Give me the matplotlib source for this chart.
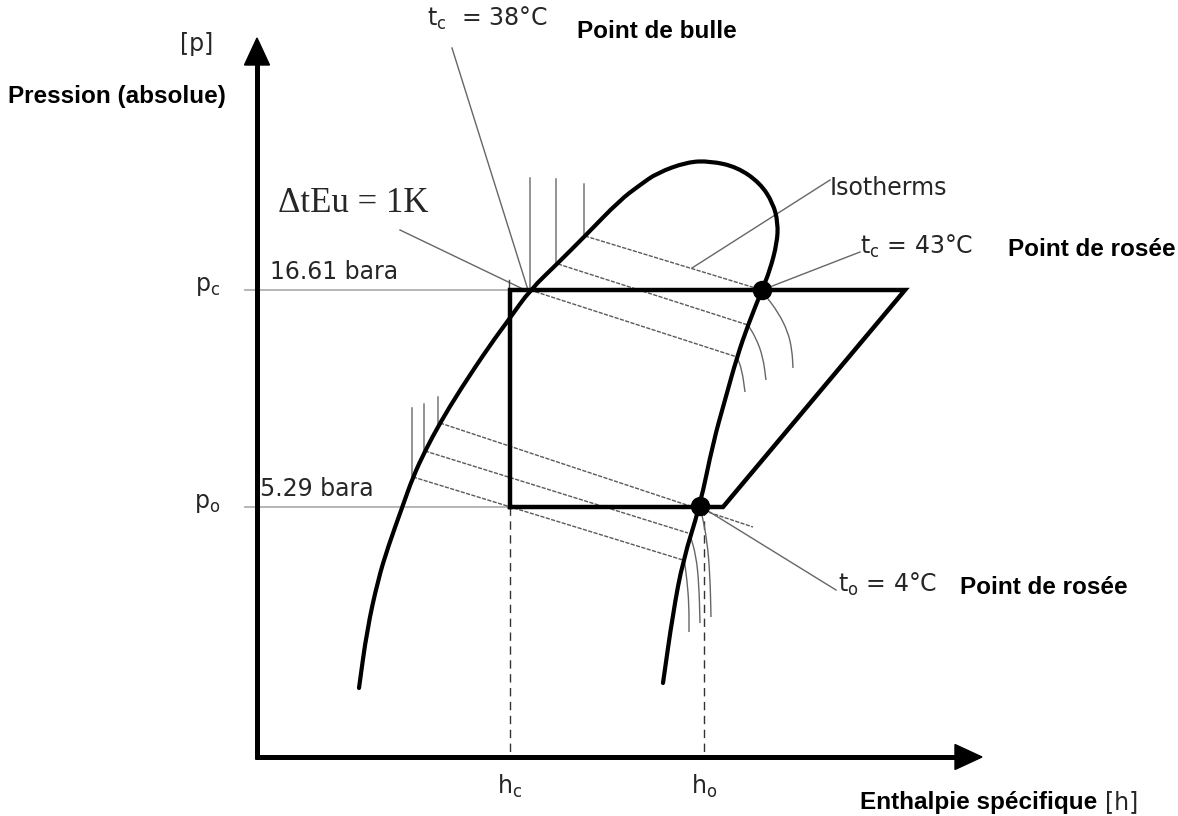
import matplotlib
matplotlib.use("Agg")
import matplotlib.pyplot as plt
from matplotlib.path import Path
from matplotlib.patches import PathPatch, Polygon
import numpy as np

plt.rcParams['mathtext.default'] = 'regular'

# ---------------- schematic data (pixel-like units, y downward) ----------------
# saturation dome (bubble line -> critical region -> dew line)
dome_h = [359, 367, 378, 388, 403, 413, 425, 440, 460, 490, 510, 530, 558, 585,
          620, 640, 657, 687, 710, 737, 760, 773, 778, 777, 770, 762, 748, 737,
          725, 713, 700, 683, 673, 663]
dome_p = [688, 630, 580, 547, 505, 477, 451, 423, 390, 345, 318, 290, 263, 236,
          200, 185, 173, 162, 161, 167, 183, 203, 223, 243, 270, 290, 325, 357,
          400, 443, 506, 560, 613, 683]

# refrigeration cycle
cycle_h = [510, 510, 905, 723, 510]
cycle_p = [507, 290, 290, 507, 507]

# pressure levels and enthalpy marks
p_levels = [290, 507]
p_names = ['p$_c$', 'p$_o$']
p_values = ['16.61 bara', '5.29 bara']
h_marks = [510, 704]
h_names = ['h$_c$', 'h$_o$']

# dew points
dew_h = [762, 700]
dew_p = [290, 506]

# isotherms (start, end)
iso_upper = [((585, 236), (762, 290)), ((558, 264), (748, 325)), ((530, 290), (737, 357))]
iso_lower = [((440, 423), (753, 527)), ((425, 451), (688, 533)), ((413, 477), (683, 560))]
# vertical isotherm stubs (h, p_top, p_bottom)
stubs = [(584, 184, 236), (556, 179, 264), (530, 178, 290),
         (412, 408, 478), (424, 404, 452), (438, 397, 425)]
# isotherm tails in the superheated region
tails = [
    ([748, 756, 763, 766], [325, 338, 357, 380]),
    ([737, 742, 745], [357, 370, 392]),
    ([765, 778, 788, 792, 793], [295, 312, 332, 350, 368]),
    ([684, 687, 689, 689], [558, 580, 605, 632]),
    ([690, 696, 699, 700], [535, 555, 585, 623]),
    ([702, 707, 710, 711], [515, 540, 575, 617]),
]
# annotation leader lines
leaders = [((452, 48), (528, 290)), ((400, 230), (525, 290)), ((692, 268), (830, 180)),
           ((762, 290), (860, 252)), ((700, 506), (836, 590))]

# axes geometry
axis_origin = (257, 757)
y_tip = 38
x_tip = 982

# ---------------- drawing ----------------
fig = plt.figure(figsize=(11.78, 8.16), dpi=100)
ax = fig.add_axes([0, 0, 1, 1])
ax.set_xlim(0, 1178)
ax.set_ylim(816, 0)
ax.axis('off')

def smooth_path(xs, ys):
    pts = np.column_stack([xs, ys]).astype(float)
    verts = [pts[0], (pts[0] + pts[1]) / 2]
    codes = [Path.MOVETO, Path.LINETO]
    for i in range(1, len(pts) - 1):
        verts += [pts[i], (pts[i] + pts[i + 1]) / 2]
        codes += [Path.CURVE3, Path.CURVE3]
    verts.append(pts[-1])
    codes.append(Path.LINETO)
    return Path(verts, codes)

thin_grey = '#5a5a5a'
txt_col = '#262626'

# pressure reference lines
for p in p_levels:
    ax.plot([245, 510], [p, p], color='#b0b0b0', lw=1.3, zorder=1)

# enthalpy dashed lines
for h, p in zip(h_marks, p_levels[::-1] if False else [507, 507]):
    ax.plot([h, h], [p, axis_origin[1]], color='#333333', lw=1.0,
            dashes=(6, 4), zorder=1)

# isotherms
for (a, b) in iso_upper + iso_lower:
    ax.plot([a[0], b[0]], [a[1], b[1]], color=thin_grey, lw=1.0,
            dashes=(3, 1), zorder=2)
for h, p0, p1 in stubs:
    ax.plot([h, h], [p0, p1], color='#777777', lw=1.1, zorder=2)
for xs, ys in tails:
    ax.add_patch(PathPatch(smooth_path(xs, ys), fill=False, ec='#666666',
                           lw=1.0, zorder=2))

# leaders
for (a, b) in leaders:
    ax.plot([a[0], b[0]], [a[1], b[1]], color='#666666', lw=1.0, zorder=2)
ax.plot([509, 509], [280, 290], color='#444444', lw=1.0, zorder=2)

# dome
ax.add_patch(PathPatch(smooth_path(dome_h, dome_p), fill=False, ec='black',
                       lw=3.0, capstyle='round', joinstyle='round', zorder=4))

# cycle
ax.plot(cycle_h, cycle_p, color='black', lw=3.2, solid_joinstyle='miter', zorder=5)

# dew points
ax.plot(dew_h, dew_p, 'o', color='black', ms=13, zorder=6)

# axes with arrows
ox, oy = axis_origin
ax.plot([ox, ox], [oy + 2, y_tip + 25], color='black', lw=3.6, zorder=5,
        solid_capstyle='butt')
ax.plot([ox - 2, x_tip - 25], [oy, oy], color='black', lw=3.6, zorder=5,
        solid_capstyle='butt')
ax.add_patch(Polygon([[ox, y_tip], [ox - 12.5, y_tip + 27], [ox + 12.5, y_tip + 27]],
                     closed=True, color='black', zorder=5))
ax.add_patch(Polygon([[x_tip, oy], [x_tip - 27, oy - 12.5], [x_tip - 27, oy + 12.5]],
                     closed=True, color='black', zorder=5))

# ---------------- texts ----------------
reg = dict(family='DejaVu Sans', fontsize=17, color=txt_col)
bold = dict(family='Liberation Sans', fontsize=17.5, fontweight='bold', color='black')

ax.text(213, 44, '[p]', ha='right', va='center', **reg)
ax.text(8, 96, 'Pression (absolue)', ha='left', va='center', **bold)

for p, name, val, vx in zip(p_levels, p_names, p_values, [270, 260]):
    ax.text(220, p - 4, name, ha='right', va='center', **reg)
    ax.text(vx, p - 18, val, ha='left', va='center', **reg)

for h, name in zip(h_marks, h_names):
    ax.text(h, 786, name, ha='center', va='center', **reg)

ax.text(427, 18, 't$_c$  = 38°C', ha='left', va='center', **reg)
ax.text(577, 31, 'Point de bulle', ha='left', va='center', **bold)

ax.text(278, 204, 'ΔtEu = 1K', ha='left', va='center', family='Liberation Serif',
        fontsize=25, color=txt_col)

ax.text(830, 188, 'Isotherms', ha='left', va='center', **reg)
ax.text(860, 246, 't$_c$ = 43°C', ha='left', va='center', **reg)
ax.text(1008, 249, 'Point de rosée', ha='left', va='center', **bold)

ax.text(838, 584, 't$_o$ = 4°C', ha='left', va='center', **reg)
ax.text(960, 587, 'Point de rosée', ha='left', va='center', **bold)

ax.text(860, 802, 'Enthalpie spécifique', ha='left', va='center', **bold)
ax.text(1105, 802, '[h]', ha='left', va='center', **reg)

fig.savefig('out.png', dpi=100)
